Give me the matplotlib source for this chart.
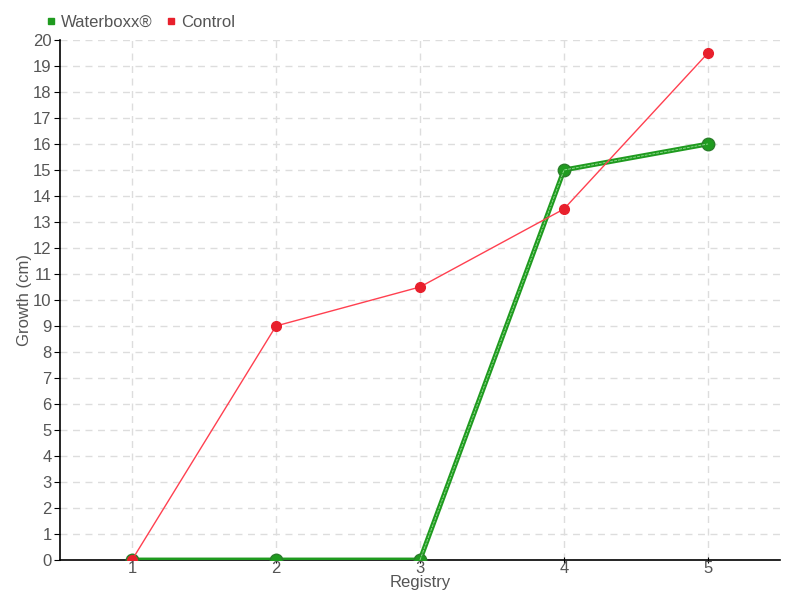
import matplotlib
matplotlib.use('Agg')
from matplotlib import pyplot as plt
from matplotlib.lines import Line2D

plt.rcParams['font.family'] = ['Liberation Sans', 'DejaVu Sans']

registry = [1, 2, 3, 4, 5]
waterboxx = [0, 0, 0, 15, 16]
control = [0, 9, 10.5, 13.5, 19.5]
y_ticks = list(range(0, 21))

txt = '#555555'
green = '#1f9b1f'

fig = plt.figure(figsize=(8, 6), dpi=100)
ax = fig.add_axes([0.075, 0.0667, 0.9, 0.8667])

ax.plot(registry, waterboxx, color=green, lw=3.5, marker='o', ms=9,
        mfc=green, mec='#2a7d2a', mew=1, zorder=3)
# light stripe on the rising part of the green line
ax.plot(registry[2:], waterboxx[2:], color='#8ad88a', lw=0.7, ls=(0, (3, 1)), zorder=3.5)
ax.plot(registry, control, color='#ff4050', lw=1, marker='o', ms=7,
        mfc='#e8202c', mec='#e8202c', zorder=4)

ax.set_xlim(0.5, 5.5)
ax.set_ylim(0, 20)
ax.set_xticks(registry)
ax.set_yticks(y_ticks)
ax.grid(True, color='#dddddd', ls=(0, (5, 4)), lw=1)
ax.set_axisbelow(True)
for s in ['top', 'right']:
    ax.spines[s].set_visible(False)
for s in ['left', 'bottom']:
    ax.spines[s].set_color('black')
    ax.spines[s].set_linewidth(1.2)
ax.tick_params(axis='y', length=4, color='black', labelcolor=txt, labelsize=12, pad=2)
ax.tick_params(axis='x', length=4, direction='inout', color='black', labelcolor=txt, labelsize=12, pad=-1)

ax.set_xlabel('Registry', color=txt, fontsize=12, labelpad=-1)
ax.set_ylabel('Growth (cm)', color=txt, fontsize=12, labelpad=1)

handles = [Line2D([], [], ls='none', marker='s', ms=5, color=green),
           Line2D([], [], ls='none', marker='s', ms=5, color='#e8202c')]
leg = fig.legend(handles, ['Waterboxx®', 'Control'], loc='center left',
                 bbox_to_anchor=(0.058, 0.963), ncol=2, frameon=False,
                 fontsize=12, handlelength=0.6, handletextpad=0.3, columnspacing=0.8,
                 borderaxespad=0, borderpad=0)
for t in leg.get_texts():
    t.set_color(txt)

fig.savefig('out.png', dpi=100)
